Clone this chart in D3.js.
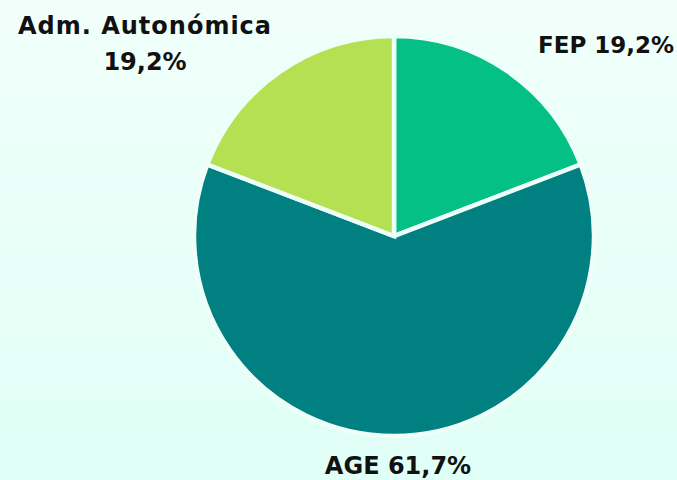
<!DOCTYPE html>
<html>
<head>
<meta charset="utf-8">
<script src="https://cdn.jsdelivr.net/npm/d3@7"></script>
<style>
  html, body { margin: 0; padding: 0; }
  svg { display: block; }
  text { font-family: "DejaVu Sans", sans-serif; font-weight: bold; fill: #111; }
</style>
</head>
<body>
<svg id="chart" width="677" height="480"></svg>
<script>
var labels = ["FEP", "AGE", "Adm. Autonómica"];
var values = [19.2, 61.7, 19.2];
var colors = ["#04c085", "#008080", "#b4e052"];

var width = 677, height = 480;
var cx = 394, cy = 236, radius = 200;

var svg = d3.select('#chart');

var defs = svg.append('defs');
var grad = defs.append('linearGradient')
  .attr('id', 'bg').attr('x1', 0).attr('y1', 0).attr('x2', 0).attr('y2', 1);
grad.append('stop').attr('offset', '0%').attr('stop-color', '#f1fffb');
grad.append('stop').attr('offset', '100%').attr('stop-color', '#e0fff6');

svg.append('rect').attr('width', width).attr('height', height).attr('fill', 'url(#bg)');

var pie = d3.pie().sort(null).value(function(d){ return d; });
var arc = d3.arc().innerRadius(0).outerRadius(radius);

var arcs = pie(values);

var g = svg.append('g').attr('transform', 'translate(' + cx + ',' + cy + ')');

g.selectAll('path')
  .data(arcs)
  .enter()
  .append('path')
  .attr('d', arc)
  .attr('fill', function(d, i){ return colors[i]; })
  .attr('stroke', '#eefffa')
  .attr('stroke-width', 4.5)
  .attr('stroke-linejoin', 'miter');

function fmt(v){ return d3.format('.1f')(v).replace('.', ',') + '%'; }

// label placement (pixel offsets relative to the pie centre)
var labelPos = [
  {x: 212, y: -183, wrap: false, size: 23, ls: 0},
  {x: 4, y: 238, wrap: false, size: 24, ls: 0},
  {x: -249, y: -202, wrap: true, size: 24, ls: 1}
];

arcs.forEach(function(d, i){
  var p = labelPos[i];
  var lines = p.wrap ? [labels[i], fmt(values[i])] : [labels[i] + ' ' + fmt(values[i])];
  var t = g.append('text')
    .attr('x', p.x)
    .attr('y', p.y)
    .attr('text-anchor', 'middle')
    .style('font-size', p.size + 'px');
  lines.forEach(function(line, j){
    t.append('tspan')
      .attr('x', p.x)
      .attr('dy', j === 0 ? 0 : 36)
      .style('letter-spacing', (j === 0 ? p.ls : 0) + 'px')
      .text(line);
  });
});
</script>
</body>
</html>
